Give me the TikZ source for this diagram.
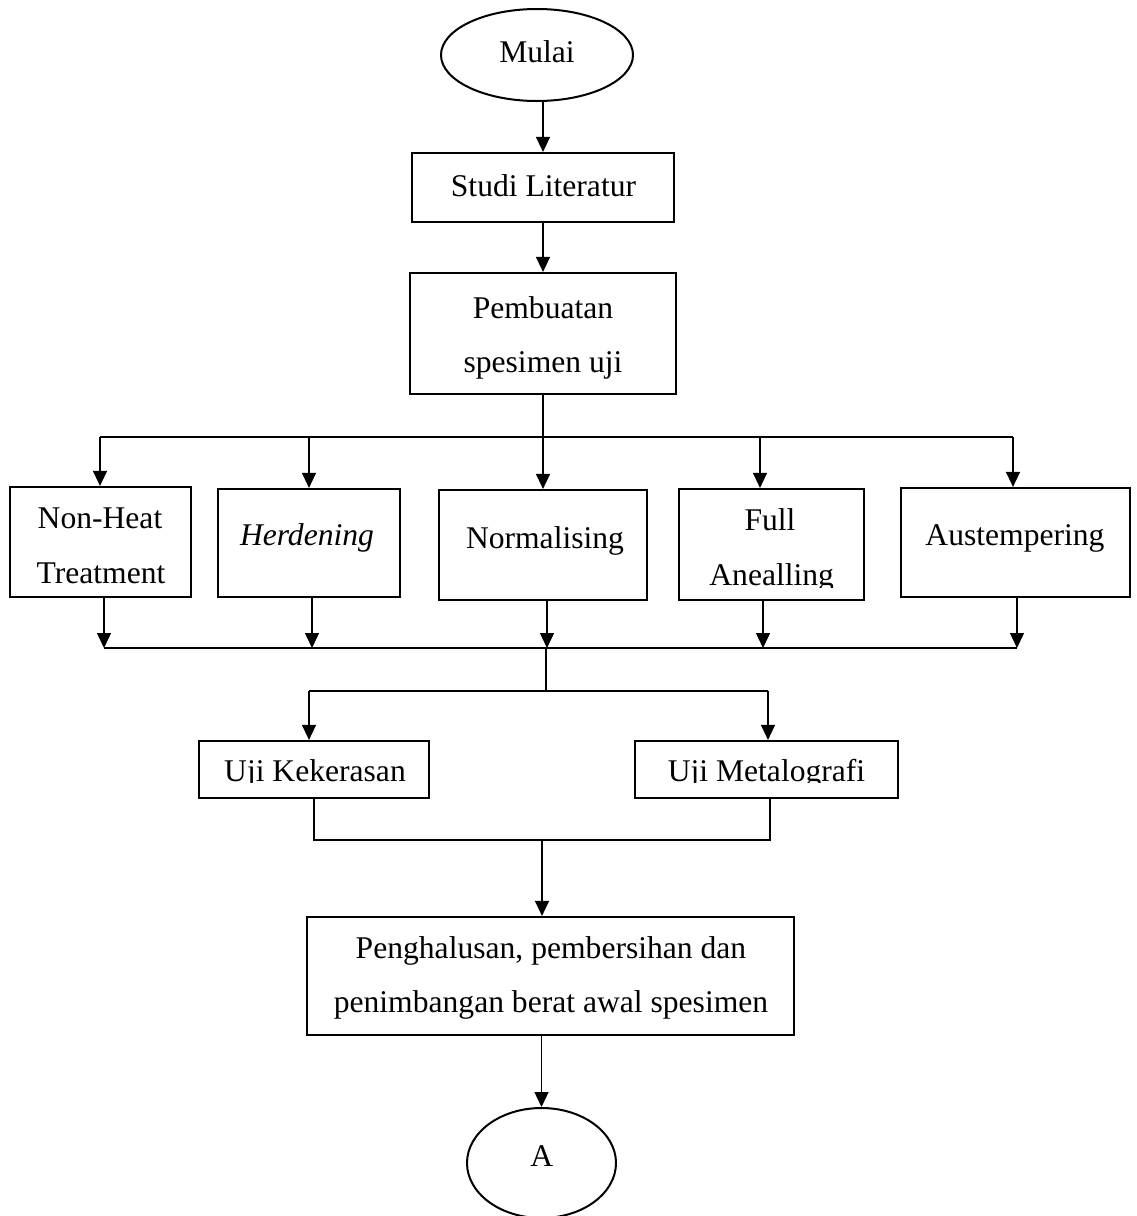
\documentclass[tikz,border=0pt]{standalone}
\usepackage{fontspec}
\setmainfont{Liberation Serif}
\usetikzlibrary{arrows.meta,shapes.geometric}
\begin{document}
\begin{tikzpicture}[x=1pt,y=-1pt,
  box/.style={draw,line width=2.2pt,inner sep=0pt},
  oval/.style={draw,ellipse,line width=2pt,inner sep=0pt},
  txt/.style={anchor=base,inner sep=0pt,font=\fontsize{31.6}{38}\selectfont},
  conn/.style={line width=1.4pt},
  arr/.style={line width=1.4pt,-{Triangle[width=14pt,length=15pt]}}]
\useasboundingbox (0,0) rectangle (1136,1216);
\fill[white] (0,0) rectangle (1136,1216);
\clip (0,0) rectangle (1136,1216);

% shapes
\node[oval,minimum width=192pt,minimum height=92pt] (mulai) at (537,55) {};
\node[box,minimum width=262pt,minimum height=69pt] (studi) at (543,187.5) {};
\node[box,minimum width=266pt,minimum height=121pt] (pemb) at (543,333.5) {};
\node[box,minimum width=181pt,minimum height=110pt] (nh) at (100.5,542) {};
\node[box,minimum width=182pt,minimum height=108pt] (herd) at (309,543) {};
\node[box,minimum width=208pt,minimum height=110pt] (norm) at (543,545) {};
\node[box,minimum width=185pt,minimum height=111pt] (full) at (771.5,544.5) {};
\node[box,minimum width=229pt,minimum height=109pt] (aust) at (1015.5,542.5) {};
\node[box,minimum width=230pt,minimum height=57pt] (ujik) at (314,769.5) {};
\node[box,minimum width=263pt,minimum height=57pt] (ujim) at (766.5,769.5) {};
\node[box,minimum width=487pt,minimum height=118pt] (peng) at (550.5,976) {};
\node[oval,minimum width=149pt,minimum height=110pt] (a) at (541.5,1163) {};

% texts
\node[txt] (tmulai) at (537,62.7) {Mulai};
\node[txt] (tstudi) at (543.5,196) {Studi Literatur};
\node[txt] (tpemb1) at (543,318) {Pembuatan};
\node[txt] (tpemb2) at (543,372) {spesimen uji};
\node[txt] (tnh1) at (100,528.3) {Non-Heat};
\node[txt] (tnh2) at (101,583.3) {Treatment};
\node[txt] (therd) at (307,545) {\textit{Herdening}};
\node[txt] (tnorm) at (545,548.3) {Normalising};
\node[txt] (tfull) at (770,530) {Full};
\begin{scope}
  \clip (680,550) rectangle (863,587);
  \node[txt] (tanea) at (771.7,585.7) {Anealling};
\end{scope}
\node[txt] (taust) at (1015,545) {Austempering};
\begin{scope}
  \clip (200,740) rectangle (428,782);
  \node[txt] (tujik) at (315,781.5) {Uji Kekerasan};
\end{scope}
\begin{scope}
  \clip (636,740) rectangle (897,782);
  \node[txt] (tujim) at (766.5,781.5) {Uji Metalografi};
\end{scope}
\node[txt] (tpeng1) at (551,958.3) {Penghalusan, pembersihan dan};
\node[txt] (tpeng2) at (551,1012.7) {penimbangan berat awal spesimen};
\node[txt] (ta) at (541.7,1166.7) {A};

% connectors
\draw[arr] (studi.north |- mulai.south) -- (studi.north);
\draw[arr] (studi.south) -- (pemb.north);
\coordinate (split) at (543,437);
\draw[conn] (pemb.south) -- (split);
\coordinate (t1) at (100,437);
\coordinate (t2) at (309,437);
\coordinate (t3) at (543,437);
\coordinate (t4) at (760,437);
\coordinate (t5) at (1013,437);
\draw[conn] (t1) -- (t5);
\draw[arr] (t1) -- (t1 |- nh.north);
\draw[arr] (t2) -- (t2 |- herd.north);
\draw[arr] (t3) -- (t3 |- norm.north);
\draw[arr] (t4) -- (t4 |- full.north);
\draw[arr] (t5) -- (t5 |- aust.north);

\coordinate (b1) at (104,648);
\coordinate (b2) at (312,648);
\coordinate (b3) at (547,648);
\coordinate (b4) at (763,648);
\coordinate (b5) at (1017,648);
\draw[arr] (b1 |- nh.south) -- (b1);
\draw[arr] (b2 |- herd.south) -- (b2);
\draw[arr] (b3 |- norm.south) -- (b3);
\draw[arr] (b4 |- full.south) -- (b4);
\draw[arr] (b5 |- aust.south) -- (b5);
\draw[conn] (b1) -- (b5);

\coordinate (m1) at (546,648);
\coordinate (m2) at (546,691);
\draw[conn] (m1) -- (m2);
\coordinate (k1) at (309,691);
\coordinate (k2) at (768,691);
\draw[conn] (k1) -- (k2);
\draw[arr] (k1) -- (k1 |- ujik.north);
\draw[arr] (k2) -- (k2 |- ujim.north);

\coordinate (j1) at (314,840);
\coordinate (j2) at (770,840);
\coordinate (j3) at (542,840);
\draw[conn] (j1 |- ujik.south) -- (j1) -- (j2) -- (j2 |- ujim.south);
\draw[arr] (j3) -- (j3 |- peng.north);
\draw[arr] (a.north |- peng.south) -- (a.north);
\end{tikzpicture}
\end{document}
